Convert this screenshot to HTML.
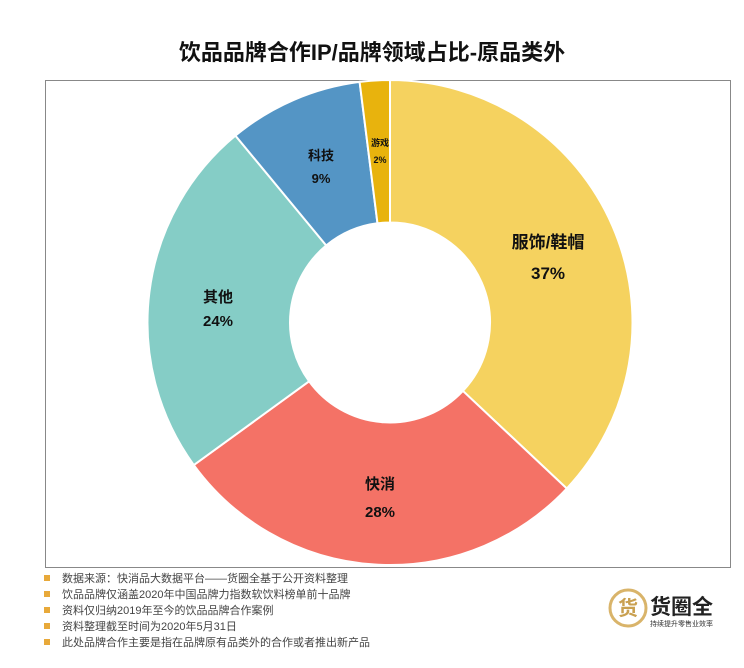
<!DOCTYPE html>
<html><head><meta charset="utf-8"><style>
body{margin:0;width:744px;height:668px;background:#fff;font-family:"Liberation Sans","Noto Sans CJK SC",sans-serif;overflow:hidden;position:relative}
.t{position:absolute;left:0;width:744px;top:35px;text-align:center;font-size:22px;font-weight:bold;color:#111}
.frame{position:absolute;left:45px;top:80px;width:684px;height:486px;border:1px solid #888}
.notes{position:absolute;left:44px;top:571px;font-size:11px;color:#444;line-height:16px}
.notes div:before{content:"";display:inline-block;width:6px;height:6px;background:#E8A93A;margin-right:12px;vertical-align:1px}
</style></head><body>
<div class="t">饮品品牌合作IP/品牌领域占比-原品类外</div>
<div class="frame"></div>
<svg width="744" height="668" style="position:absolute;left:0;top:0" id="s">
<g id="g"></g>
<g font-family="Liberation Sans,Noto Sans CJK SC,sans-serif" font-weight="bold" text-anchor="middle" fill="#111">
<text x="548" y="248" font-size="17">服饰/鞋帽</text><text x="548" y="279" font-size="17">37%</text>
<text x="380" y="489" font-size="15">快消</text><text x="380" y="517" font-size="15">28%</text>
<text x="218" y="302" font-size="15">其他</text><text x="218" y="326" font-size="15">24%</text>
<text x="321" y="160" font-size="13">科技</text><text x="321" y="183" font-size="13">9%</text>
<text x="380" y="146" font-size="9">游戏</text><text x="380" y="163" font-size="9">2%</text>
</g>
<g transform="translate(608,588)">
<circle cx="20" cy="20" r="18" fill="none" stroke="#D9B46A" stroke-width="3"/>
<text x="20" y="27" font-size="20" text-anchor="middle" fill="#C9A050" font-weight="bold" font-family="Noto Sans CJK SC,sans-serif">货</text>
<text x="42" y="26" font-size="21" font-weight="bold" fill="#222" font-family="Noto Sans CJK SC,sans-serif">货圈全</text>
<text x="42" y="38" font-size="7" fill="#333" font-family="Noto Sans CJK SC,sans-serif">持续提升零售业效率</text>
</g>
</svg>
<div class="notes">
<div>数据来源：快消品大数据平台——货圈全基于公开资料整理</div>
<div>饮品品牌仅涵盖2020年中国品牌力指数软饮料榜单前十品牌</div>
<div>资料仅归纳2019年至今的饮品品牌合作案例</div>
<div>资料整理截至时间为2020年5月31日</div>
<div>此处品牌合作主要是指在品牌原有品类外的合作或者推出新产品</div>
</div>
<script>
var cx=390,cy=322.5,R=242.5,r=100;
var d=[[37,"#F5D25F"],[28,"#F47266"],[24,"#85CDC6"],[9,"#5495C5"],[2,"#E8B30D"]];
var a=0,h="";
function p(rad,ang){var t=(ang*3.6-90)*Math.PI/180;return (cx+rad*Math.cos(t)).toFixed(2)+" "+(cy+rad*Math.sin(t)).toFixed(2);}
d.forEach(function(s){var b=a+s[0],l=s[0]>50?1:0;
h+='<path d="M'+p(R,a)+' A'+R+' '+R+' 0 '+l+' 1 '+p(R,b)+' L'+p(r,b)+' A'+r+' '+r+' 0 '+l+' 0 '+p(r,a)+' Z" fill="'+s[1]+'" stroke="#fff" stroke-width="2"/>';a=b;});
document.getElementById("g").innerHTML=h;
</script>
</body></html>
